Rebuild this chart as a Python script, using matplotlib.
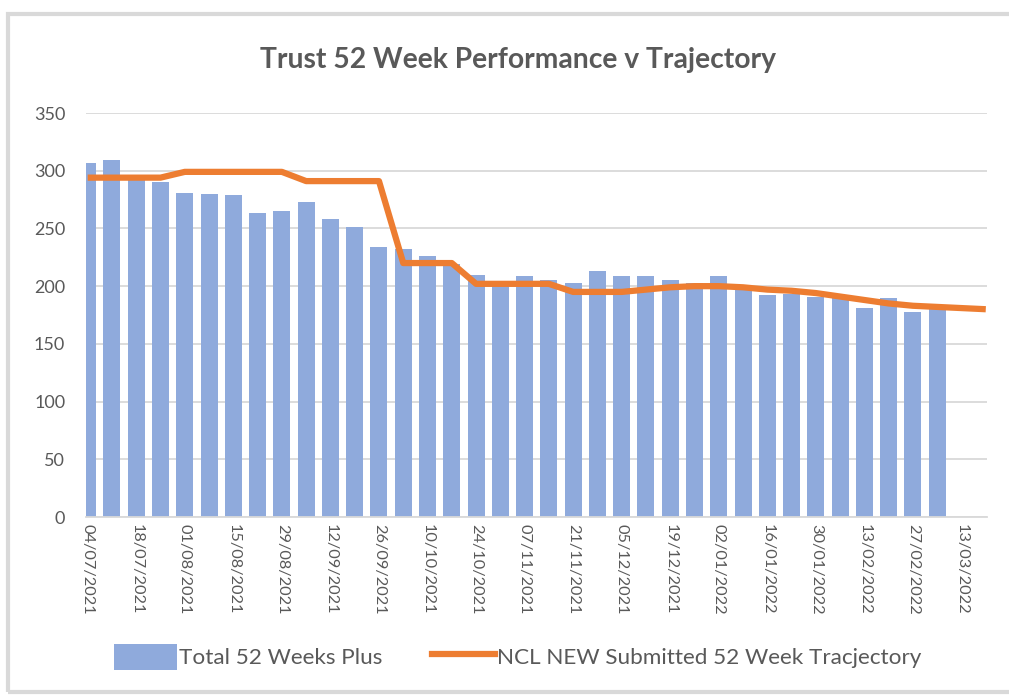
import numpy as np
import pandas as pd
import matplotlib
matplotlib.use("Agg")
import matplotlib.pyplot as plt
from matplotlib.patches import Rectangle, Patch
from matplotlib.lines import Line2D

# weekly categories, 04/07/2021 .. 20/03/2022
weeks = pd.date_range("2021-07-04", periods=38, freq="7D")
week_labels = [d.strftime("%d/%m/%Y") for d in weeks]

# actual 52+ week waiters (bars stop at 06/03/2022)
total_52_plus = [307, 309, 294, 290, 281, 280, 279, 263, 265, 273,
                 258, 251, 234, 232, 226, 219, 210, 203, 209, 205,
                 203, 213, 209, 209, 205, 203, 209, 197, 192, 193,
                 191, 190, 181, 190, 178, 180]

# submitted trajectory (whole period)
trajectory = [294, 294, 294, 294, 299, 299, 299, 299, 299, 291,
              291, 291, 291, 220, 220, 220, 202, 202, 202, 202,
              195, 195, 195, 197, 199, 200, 200, 199, 197, 196,
              194, 191, 188, 185, 183, 182, 181, 180]

bar_col = "#8FAADC"
line_col = "#ED7D31"
grid_col = "#D9D9D9"
txt_col = "#595959"

plt.rcParams["font.family"] = ["Lato", "DejaVu Sans"]

fig = plt.figure(figsize=(10.09, 6.98), dpi=100)
W, H = 1009, 698

# outer chart frame
fig.patches.append(Rectangle((8 / W, 6 / H), 1.2, (692 - 14) / H,
                             transform=fig.transFigure, fill=False,
                             edgecolor=grid_col, lw=3))

ax = fig.add_axes([86 / W, (H - 517) / H, (987 - 86) / W, (517 - 113) / H])

x = np.arange(len(weeks))
ax.bar(x[:len(total_52_plus)], total_52_plus, width=0.7, color=bar_col, zorder=2)
ax.plot(x, trajectory, color=line_col, lw=4.5, solid_capstyle="butt",
        solid_joinstyle="round", zorder=3)

ax.set_xlim(-0.07, 37.05)
ax.set_ylim(0, 350)
ax.set_yticks(range(0, 351, 50))
ax.yaxis.grid(True, color=grid_col, lw=1.3)
ax.set_axisbelow(True)
for s in ["top", "right", "left"]:
    ax.spines[s].set_visible(False)
ax.spines["bottom"].set_color(grid_col)
ax.spines["bottom"].set_linewidth(1.3)
ax.tick_params(axis="y", length=0, pad=15, labelsize=13, labelcolor=txt_col)
ax.set_xticks(x[::2])
ax.set_xticklabels(week_labels[::2], rotation=270, fontsize=11.8, color=txt_col)
ax.tick_params(axis="x", length=0, pad=5)

fig.text(0.513, (H - 60) / H, "Trust 52 Week Performance v Trajectory",
         ha="center", va="center", fontsize=20.3, fontweight="bold", color=txt_col)

handles = [Patch(facecolor=bar_col, edgecolor="none"),
           Line2D([0], [0], color=line_col, lw=4.5)]
fig.legend(handles, ["Total 52 Weeks Plus", "NCL NEW Submitted 52 Week Tracjectory"],
           loc="center", bbox_to_anchor=(0.513, (H - 657) / H), ncol=2,
           frameon=False, fontsize=16.2, handlelength=2.8, handleheight=1.4,
           handletextpad=0.1, columnspacing=2.2, labelcolor=txt_col)

fig.savefig("out.png", dpi=100, facecolor="white")
